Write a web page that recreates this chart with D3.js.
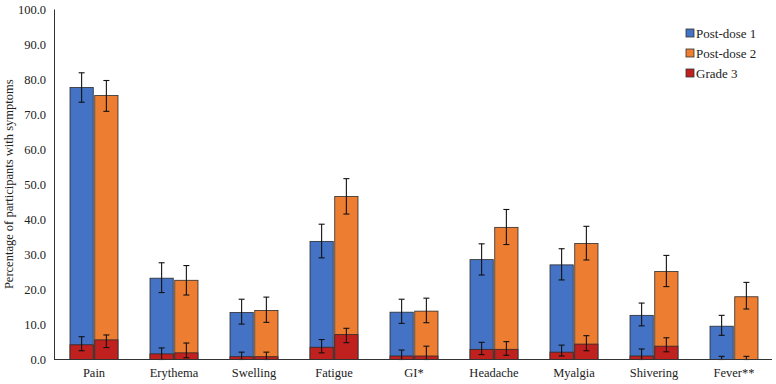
<!DOCTYPE html>
<html>
<head>
<meta charset="utf-8">
<script src="https://cdn.jsdelivr.net/npm/d3@7"></script>
<style>
  body { margin: 0; background: #fff; }
</style>
</head>
<body>
<div id="chart"></div>
<script>
// Chart data
const categories = ["Pain", "Erythema", "Swelling", "Fatigue", "GI*", "Headache", "Myalgia", "Shivering", "Fever**"];
const seriesNames = ["Post-dose 1", "Post-dose 2"];

const dose1 = [77.6, 23.2, 13.4, 33.7, 13.5, 28.5, 27.0, 12.6, 9.5];
const dose1Lo = [73.4, 19.1, 10.1, 29.0, 10.3, 24.1, 22.7, 9.6, 6.9];
const dose1Hi = [81.8, 27.6, 17.2, 38.6, 17.2, 33.0, 31.6, 16.1, 12.6];

const dose2 = [75.3, 22.6, 14.0, 46.5, 13.8, 37.7, 33.1, 25.1, 17.9];
const dose2Lo = [70.8, 18.4, 10.6, 41.5, 10.5, 32.8, 28.4, 20.8, 14.4];
const dose2Hi = [79.6, 26.8, 17.8, 51.6, 17.5, 42.8, 38.0, 29.7, 22.0];

const grade3Dose1 = [4.2, 1.6, 0.8, 3.5, 1.0, 2.9, 2.1, 1.0, 0.0];
const grade3Dose1Lo = [2.5, 0.0, 0.0, 1.9, 0.0, 1.4, 1.0, 0.0, 0.0];
const grade3Dose1Hi = [6.5, 3.3, 2.1, 5.7, 2.7, 4.9, 4.1, 3.0, 0.9];

const grade3Dose2 = [5.6, 1.9, 0.8, 7.1, 1.0, 2.9, 4.4, 3.8, 0.0];
const grade3Dose2Lo = [3.4, 0.5, 0.0, 4.8, 0.0, 1.2, 2.5, 2.2, 0.0];
const grade3Dose2Hi = [7.0, 4.7, 2.1, 8.9, 3.8, 5.1, 6.8, 6.2, 0.9];

const yTicks = [0, 10, 20, 30, 40, 50, 60, 70, 80, 90, 100];
const legendItems = ["Post-dose 1", "Post-dose 2", "Grade 3"];

// Layout
const width = 776, height = 384;
const x0 = 54, x1End = 774, yBase = 359.5, yTop = 9;
const serif = '"Liberation Serif", "Times New Roman", serif';

const colors = { "Post-dose 1": "#4472C4", "Post-dose 2": "#ED7D31", "Grade 3": "#C0201E" };

const svg = d3.select("#chart").append("svg")
  .attr("width", width)
  .attr("height", height)
  .style("font-family", serif);

const x = d3.scaleBand().domain(categories).range([x0, x1End]).paddingInner(0.4).paddingOuter(0.2);
const xs = d3.scaleBand().domain(seriesNames).range([0, x.bandwidth()]).paddingInner(0.06);
const y = d3.scaleLinear().domain([0, 100]).range([yBase, yTop]);

// Build rows per category/series
const rows = [];
categories.forEach((c, i) => {
  rows.push({ cat: c, s: "Post-dose 1", v: dose1[i], lo: dose1Lo[i], hi: dose1Hi[i],
    g: grade3Dose1[i], glo: grade3Dose1Lo[i], ghi: grade3Dose1Hi[i] });
  rows.push({ cat: c, s: "Post-dose 2", v: dose2[i], lo: dose2Lo[i], hi: dose2Hi[i],
    g: grade3Dose2[i], glo: grade3Dose2Lo[i], ghi: grade3Dose2Hi[i] });
});

const g = svg.append("g");

// Main bars
g.selectAll("rect.main").data(rows).enter().append("rect")
  .attr("class", "main")
  .attr("x", d => x(d.cat) + xs(d.s))
  .attr("width", xs.bandwidth())
  .attr("y", d => y(d.v))
  .attr("height", d => y(0) - y(d.v))
  .attr("fill", d => colors[d.s])
  .attr("stroke", "#2b2b2b")
  .attr("stroke-width", 0.8);

// Grade 3 bars
g.selectAll("rect.g3").data(rows).enter().append("rect")
  .attr("class", "g3")
  .attr("x", d => x(d.cat) + xs(d.s))
  .attr("width", xs.bandwidth())
  .attr("y", d => y(d.g))
  .attr("height", d => y(0) - y(d.g))
  .attr("fill", colors["Grade 3"])
  .attr("stroke", "#2b2b2b")
  .attr("stroke-width", d => d.g > 0 ? 0.8 : 0);

// Error bars
function errorBars(cls, lo, hi) {
  const eb = g.selectAll("g." + cls).data(rows).enter().append("g")
    .attr("class", cls)
    .attr("transform", d => `translate(${x(d.cat) + xs(d.s) + xs.bandwidth() / 2},0)`);
  eb.append("line")
    .attr("y1", d => y(d[lo])).attr("y2", d => y(d[hi]))
    .attr("stroke", "#111").attr("stroke-width", 1.1);
  [lo, hi].forEach(k => {
    eb.append("line")
      .attr("x1", -3).attr("x2", 3)
      .attr("y1", d => y(d[k])).attr("y2", d => y(d[k]))
      .attr("stroke", "#111").attr("stroke-width", 1.1);
  });
}
errorBars("eb-main", "lo", "hi");
errorBars("eb-g3", "glo", "ghi");

// Y axis
const yAxis = svg.append("g")
  .attr("transform", `translate(${x0},0)`)
  .call(d3.axisLeft(y).tickValues(yTicks).tickSize(0).tickPadding(8).tickFormat(d3.format(".1f")));
yAxis.attr("font-family", null).attr("font-size", null);
yAxis.select(".domain").attr("stroke", "#333").attr("stroke-width", 1);
yAxis.selectAll("text").attr("font-size", 12.5).attr("fill", "#222");

// X axis
const xAxis = svg.append("g")
  .attr("transform", `translate(0,${yBase})`)
  .call(d3.axisBottom(x).tickSize(0).tickPadding(9));
xAxis.attr("font-family", null).attr("font-size", null);
xAxis.select(".domain").attr("d", `M${x0},0H${x1End - 2}`).attr("stroke", "#333").attr("stroke-width", 1);
xAxis.selectAll("text").attr("font-size", 12.5).attr("fill", "#222");

// Y axis title
svg.append("text")
  .attr("transform", `translate(13,${(yBase + yTop) / 2}) rotate(-90)`)
  .attr("text-anchor", "middle")
  .attr("font-size", 12.5)
  .attr("fill", "#222")
  .text("Percentage of participants with symptoms");

// Legend
const legend = svg.append("g").attr("transform", "translate(686,33)");
const li = legend.selectAll("g").data(legendItems).enter().append("g")
  .attr("transform", (d, i) => `translate(0,${i * 20})`);
li.append("rect")
  .attr("x", 0).attr("y", -4).attr("width", 8).attr("height", 8)
  .attr("fill", d => colors[d])
  .attr("stroke", "#333").attr("stroke-width", 0.8);
li.append("text")
  .attr("x", 10).attr("y", 0).attr("dy", "0.35em")
  .attr("font-size", 13)
  .attr("fill", "#222")
  .text(d => d);
</script>
</body>
</html>
